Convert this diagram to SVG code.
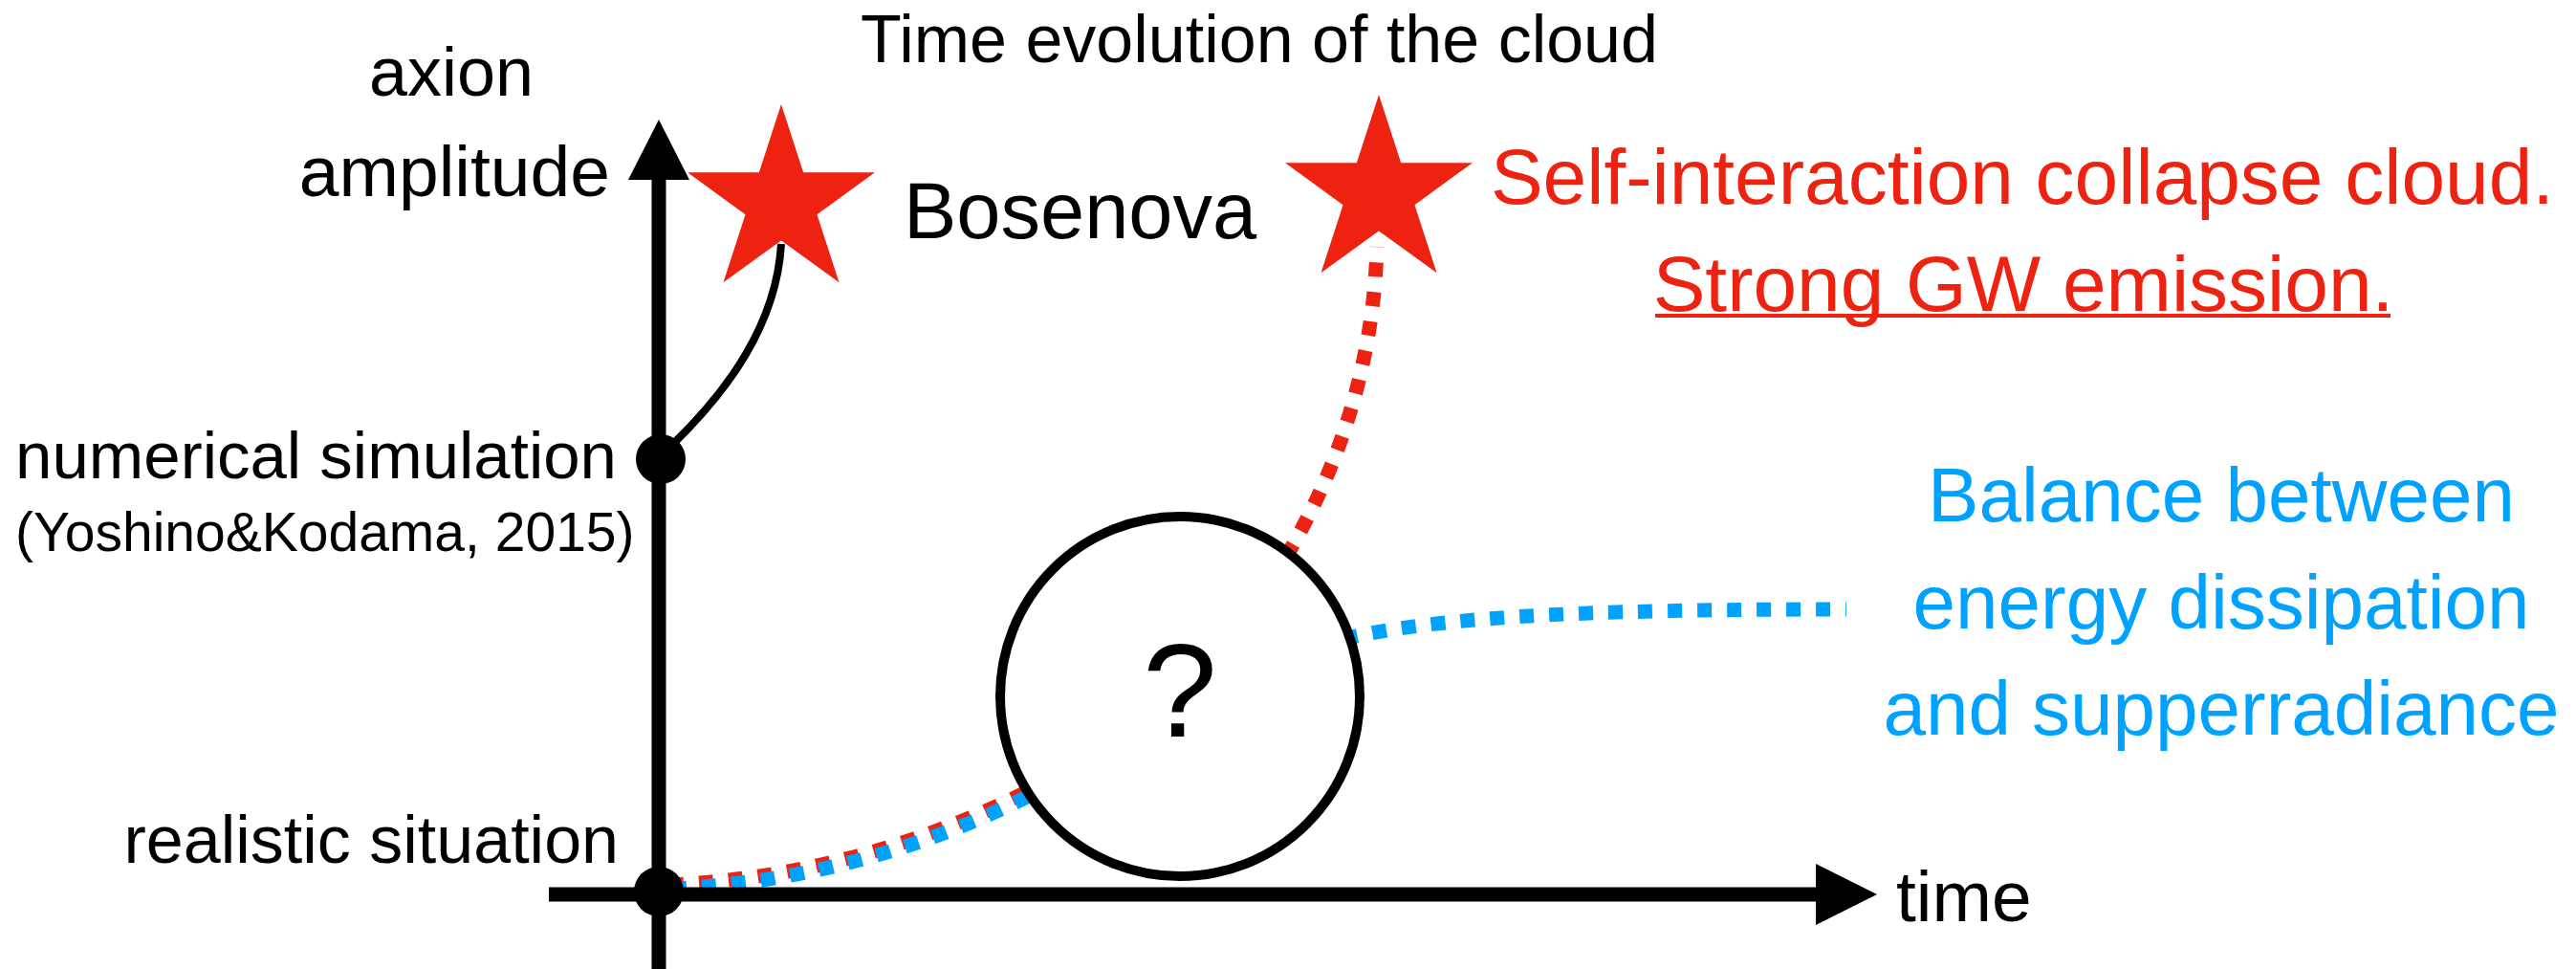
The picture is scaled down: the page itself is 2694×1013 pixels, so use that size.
<svg xmlns="http://www.w3.org/2000/svg" xmlns:xlink="http://www.w3.org/1999/xlink" width="2694" height="1013" viewBox="0 0 2694 1013">
<style>
text{font-family:"Liberation Sans",Arial,sans-serif;}
.k{fill:#000;}
.r{fill:#ee2210;}
.b{fill:#00a2ff;}
.dashr{fill:none;stroke:#ee2210;stroke-width:15;stroke-dasharray:15 16;}
.dashb{fill:none;stroke:#00a2ff;stroke-width:15;stroke-dasharray:15 16;}
.axis{stroke:#000;stroke-width:15;fill:none;}
</style>
<defs>
<polygon id="star" fill="#ee2210" points="0,-103 23.16,-31.87 97.96,-31.83 37.47,12.18 60.54,83.33 0,39.4 -60.54,83.33 -37.47,12.18 -97.96,-31.83 -23.16,-31.87"/>
</defs>
<rect width="2694" height="1013" fill="#fff"/>

<g id="title"><text x="1317" y="65" font-size="70" text-anchor="middle" class="k">Time evolution of the cloud</text></g>

<g id="connectors">
  <path d="M702,466 C760,410 812,340 817,255" fill="none" stroke="#000" stroke-width="8"/>
  <path class="dashr" d="M1345,582 Q1435,430 1440,258"/>
  <path class="dashr" d="M700,925 Q905,915 1085,822"/>
  <path class="dashb" d="M703,929 Q908,919 1088,826"/>
  <path class="dashb" d="M1405,668 C1500,646 1640,637 1931,637"/>
</g>

<g id="axes">
  <line class="axis" x1="689" y1="1013" x2="689" y2="180"/>
  <polygon points="689,125 721,188 657,188" fill="#000"/>
  <line class="axis" x1="574" y1="935" x2="1905" y2="935"/>
  <polygon points="1963,935 1899,903 1899,967" fill="#000"/>
</g>

<g id="origin-dot"><circle cx="689" cy="932" r="26" fill="#000"/></g>
<g id="sim-dot"><circle cx="691" cy="480" r="26" fill="#000"/></g>

<g id="star-bosenova"><use xlink:href="#star" href="#star" transform="translate(817,212)"/></g>
<g id="star-collapse"><use xlink:href="#star" href="#star" transform="translate(1442,202)"/></g>

<g id="cloud">
  <circle cx="1234" cy="728" r="188" fill="#fff" stroke="#000" stroke-width="10"/>
  <text x="1234" y="770" font-size="140" text-anchor="middle" class="k">?</text>
</g>

<g id="labels">
  <text x="472" y="100" font-size="72" text-anchor="middle" class="k">axion</text>
  <text x="638" y="205" font-size="75" text-anchor="end" class="k">amplitude</text>
  <text x="945" y="249" font-size="83" class="k">Bosenova</text>
  <text x="645" y="500" font-size="69" text-anchor="end" class="k">numerical simulation</text>
  <text x="16" y="576" font-size="57" class="k">(Yoshino&amp;Kodama, 2015)</text>
  <text x="647" y="902" font-size="70" text-anchor="end" class="k">realistic situation</text>
  <text x="1983" y="963" font-size="75" class="k">time</text>
</g>

<g id="collapse-label">
  <text x="2115" y="213" font-size="82" text-anchor="middle" class="r">Self-interaction collapse cloud.</text>
  <text x="2116" y="325" font-size="82" text-anchor="middle" class="r">Strong GW emission.</text>
  <rect x="1731" y="328" width="769" height="4" class="r"/>
</g>

<g id="balance-label">
  <text x="2323" y="545" font-size="80" text-anchor="middle" class="b">Balance between</text>
  <text x="2323" y="657" font-size="80" text-anchor="middle" class="b">energy dissipation</text>
  <text x="2323" y="768" font-size="80" text-anchor="middle" class="b">and supperradiance</text>
</g>
</svg>
